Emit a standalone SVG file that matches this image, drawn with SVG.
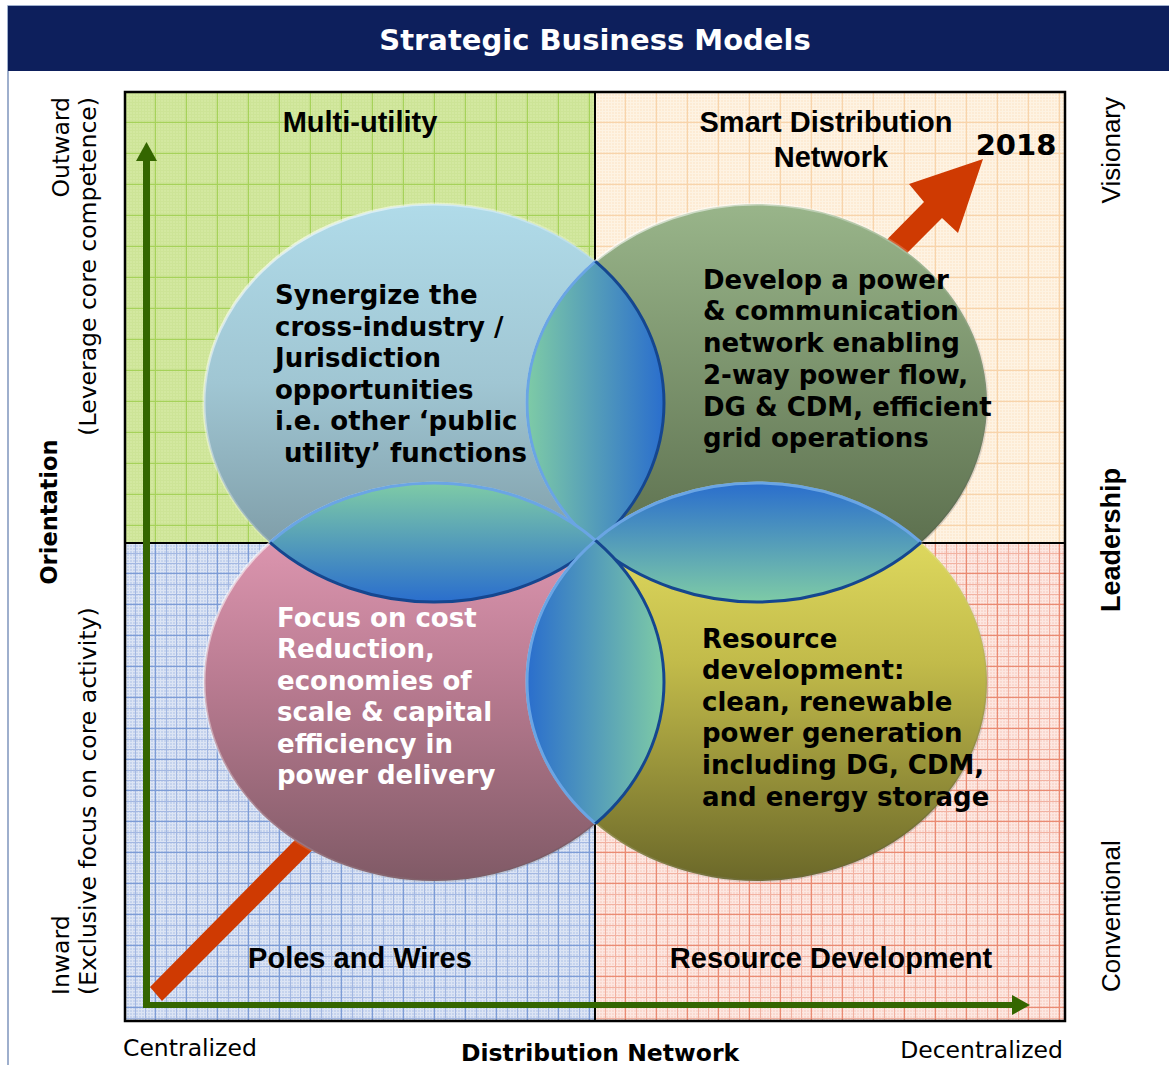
<svg xmlns="http://www.w3.org/2000/svg" width="1169" height="1065" viewBox="0 0 1169 1065">
  <style>
    .title { font-family: "DejaVu Sans", Verdana, sans-serif; font-weight: bold; font-size: 29px; fill: #ffffff; }
    .quad { font-family: "Liberation Sans", Arial, sans-serif; font-weight: bold; font-size: 29px; fill: #000000; }
    .body { font-family: "DejaVu Sans", Verdana, sans-serif; font-weight: bold; font-size: 26px; fill: #000000; }
    .body.light { fill: #ffffff; }
    .year { font-family: "DejaVu Sans", Verdana, sans-serif; font-weight: bold; font-size: 29px; fill: #000000; }
    .side { font-family: "DejaVu Sans", Verdana, sans-serif; font-size: 23.5px; fill: #000000; }
    .sideb { font-family: "DejaVu Sans", Verdana, sans-serif; font-weight: bold; font-size: 22.5px; fill: #000000; }
    .rside { font-family: "Liberation Sans", Arial, sans-serif; font-size: 26px; fill: #000000; }
    .rsideb { font-family: "Liberation Sans", Arial, sans-serif; font-weight: bold; font-size: 27px; fill: #000000; }
    .axisb { font-family: "DejaVu Sans", Verdana, sans-serif; font-weight: bold; font-size: 23.5px; fill: #000000; }
    .rim { fill: none; stroke: url(#rim); stroke-width: 3; }
  </style>
  <defs>
    <!-- quadrant grid textures -->
    <pattern id="pGreen" patternUnits="userSpaceOnUse" x="125" y="92" width="31" height="31">
      <rect width="31" height="31" fill="#d3e8a0"/>
      <path d="M0 1.5H31M0 4.5H31M0 7.5H31M0 10.5H31M0 13.5H31M0 16.5H31M0 19.5H31M0 22.5H31M0 25.5H31M0 28.5H31M1.5 0V31M4.5 0V31M7.5 0V31M10.5 0V31M13.5 0V31M16.5 0V31M19.5 0V31M22.5 0V31M25.5 0V31M28.5 0V31" stroke="#c7e08d" stroke-width="1" opacity="0.5"/>
      <path d="M0 30.5H31M30.5 0V31" stroke="#a6d25a" stroke-width="1.5"/>
    </pattern>
    <pattern id="pPeach" patternUnits="userSpaceOnUse" x="595" y="92" width="31" height="31">
      <rect width="31" height="31" fill="#fdebd4"/>
      <path d="M0 1.5H31M0 4.5H31M0 7.5H31M0 10.5H31M0 13.5H31M0 16.5H31M0 19.5H31M0 22.5H31M0 25.5H31M0 28.5H31M1.5 0V31M4.5 0V31M7.5 0V31M10.5 0V31M13.5 0V31M16.5 0V31M19.5 0V31M22.5 0V31M25.5 0V31M28.5 0V31" stroke="#fff6ea" stroke-width="1" opacity="0.7"/>
      <path d="M0 30.5H31M30.5 0V31" stroke="#f8d4ab" stroke-width="1.5"/>
    </pattern>
    <pattern id="pBlue" patternUnits="userSpaceOnUse" x="125" y="543" width="31" height="31">
      <rect width="31" height="31" fill="#c5d3ed"/>
      <path d="M0 1.5H31M0 4.5H31M0 7.5H31M0 10.5H31M0 13.5H31M0 16.5H31M0 19.5H31M0 22.5H31M0 25.5H31M0 28.5H31M1.5 0V31M4.5 0V31M7.5 0V31M10.5 0V31M13.5 0V31M16.5 0V31M19.5 0V31M22.5 0V31M25.5 0V31M28.5 0V31" stroke="#eef2fa" stroke-width="1" opacity="0.55"/>
      <path d="M0 10.5H31M0 20.5H31M10.5 0V31M20.5 0V31" stroke="#a4b8e2" stroke-width="1"/>
      <path d="M0 30.5H31M30.5 0V31" stroke="#7d9cd6" stroke-width="1.5"/>
    </pattern>
    <pattern id="pPink" patternUnits="userSpaceOnUse" x="595" y="543" width="31" height="31">
      <rect width="31" height="31" fill="#f9d8cf"/>
      <path d="M0 1.5H31M0 4.5H31M0 7.5H31M0 10.5H31M0 13.5H31M0 16.5H31M0 19.5H31M0 22.5H31M0 25.5H31M0 28.5H31M1.5 0V31M4.5 0V31M7.5 0V31M10.5 0V31M13.5 0V31M16.5 0V31M19.5 0V31M22.5 0V31M25.5 0V31M28.5 0V31" stroke="#fff1ec" stroke-width="1" opacity="0.6"/>
      <path d="M0 10.5H31M0 20.5H31M10.5 0V31M20.5 0V31" stroke="#f2b2a2" stroke-width="1"/>
      <path d="M0 30.5H31M30.5 0V31" stroke="#ea8b73" stroke-width="1.5"/>
    </pattern>

    <!-- ellipse fills -->
    <linearGradient id="gBlue" x1="0" y1="0" x2="0" y2="1">
      <stop offset="0" stop-color="#b0dbe9"/>
      <stop offset="0.45" stop-color="#a0c6d3"/>
      <stop offset="1" stop-color="#74909a"/>
    </linearGradient>
    <linearGradient id="gGreen" x1="0" y1="0" x2="0" y2="1">
      <stop offset="0" stop-color="#99b58a"/>
      <stop offset="1" stop-color="#536545"/>
    </linearGradient>
    <linearGradient id="gPink" x1="0" y1="0" x2="0" y2="1">
      <stop offset="0" stop-color="#eaa0bb"/>
      <stop offset="0.5" stop-color="#b97b91"/>
      <stop offset="1" stop-color="#805a66"/>
    </linearGradient>
    <linearGradient id="gYellow" x1="0" y1="0" x2="0" y2="1">
      <stop offset="0" stop-color="#ebe667"/>
      <stop offset="0.45" stop-color="#c2bb4a"/>
      <stop offset="1" stop-color="#6b6829"/>
    </linearGradient>
    <linearGradient id="rim" x1="0" y1="0" x2="1" y2="1">
      <stop offset="0" stop-color="#ffffff" stop-opacity="0.75"/>
      <stop offset="0.5" stop-color="#ffffff" stop-opacity="0.15"/>
      <stop offset="1" stop-color="#000000" stop-opacity="0.25"/>
    </linearGradient>

    <!-- overlap lens fills -->
    <linearGradient id="lensUp" gradientUnits="userSpaceOnUse" x1="527" y1="0" x2="664" y2="0">
      <stop offset="0" stop-color="#7ecba6"/>
      <stop offset="1" stop-color="#2a6ecd"/>
    </linearGradient>
    <linearGradient id="lensDown" gradientUnits="userSpaceOnUse" x1="527" y1="0" x2="664" y2="0">
      <stop offset="0" stop-color="#2a6ecd"/>
      <stop offset="1" stop-color="#7ecba6"/>
    </linearGradient>
    <linearGradient id="lensLeft" gradientUnits="userSpaceOnUse" x1="0" y1="483" x2="0" y2="602">
      <stop offset="0" stop-color="#7ecba6"/>
      <stop offset="1" stop-color="#2a6ecd"/>
    </linearGradient>
    <linearGradient id="lensRight" gradientUnits="userSpaceOnUse" x1="0" y1="483" x2="0" y2="602">
      <stop offset="0" stop-color="#2a6ecd"/>
      <stop offset="1" stop-color="#7ecba6"/>
    </linearGradient>

    <clipPath id="cB"><ellipse cx="434" cy="403" rx="230" ry="199"/></clipPath>
    <clipPath id="cG"><ellipse cx="757" cy="403" rx="230" ry="199"/></clipPath>
    <clipPath id="cP"><ellipse cx="434" cy="682" rx="230" ry="199"/></clipPath>
    <clipPath id="cY"><ellipse cx="757" cy="682" rx="230" ry="199"/></clipPath>
  </defs>

  <rect width="1169" height="1065" fill="#ffffff"/>

  <!-- frame and header -->
  <rect x="8" y="6" width="1170" height="1070" fill="none" stroke="#7f95bd" stroke-width="1.5"/>
  <rect id="header" x="8" y="6" width="1161" height="65" fill="#0d1f5c"/>
  <text class="title" x="595" y="50" text-anchor="middle">Strategic Business Models</text>

  <!-- quadrants -->
  <g id="quadrants">
    <rect x="125" y="92" width="470" height="451" fill="url(#pGreen)"/>
    <rect x="595" y="92" width="470" height="451" fill="url(#pPeach)"/>
    <rect x="125" y="543" width="470" height="478" fill="url(#pBlue)"/>
    <rect x="595" y="543" width="470" height="478" fill="url(#pPink)"/>
    <path d="M595 92V1021M125 543H1065" stroke="#000000" stroke-width="2"/>
    <rect x="125" y="92" width="940" height="929" fill="none" stroke="#000000" stroke-width="2.5"/>
  </g>

  <!-- quadrant titles -->
  <g id="q-multi"><text class="quad" x="360" y="132" text-anchor="middle">Multi-utility</text></g>
  <g id="q-smart">
    <text class="quad" x="826" y="132" text-anchor="middle">Smart Distribution</text>
    <text class="quad" x="831" y="167" text-anchor="middle">Network</text>
  </g>
  <g id="q-poles"><text class="quad" x="360" y="968" text-anchor="middle">Poles and Wires</text></g>
  <g id="q-resource"><text class="quad" x="831" y="968" text-anchor="middle">Resource Development</text></g>
  <g id="year"><text class="year" x="1016" y="155" text-anchor="middle">2018</text></g>

  <!-- connectors: trajectory arrow and axes -->
  <g id="connectors">
    <polygon points="150,987 924,202 909,184 983,159 958,233 942,218 162,1001" fill="#cf3a02"/>
    <rect x="143" y="158" width="7" height="850" fill="#346600"/>
    <polygon points="146.5,142 136,161 157,161" fill="#346600"/>
    <rect x="143" y="1002" width="872" height="6" fill="#346600"/>
    <polygon points="1030,1005 1012,995 1012,1015" fill="#346600"/>
  </g>

  <!-- four strategy ellipses -->
  <g id="node-synergize">
    <ellipse cx="434" cy="403" rx="230" ry="199" fill="url(#gBlue)"/>
    <ellipse class="rim" cx="434" cy="403" rx="230" ry="199"/>
  </g>
  <g id="node-develop">
    <ellipse cx="757" cy="403" rx="230" ry="199" fill="url(#gGreen)"/>
    <ellipse class="rim" cx="757" cy="403" rx="230" ry="199"/>
  </g>
  <g id="node-focus">
    <ellipse cx="434" cy="682" rx="230" ry="199" fill="url(#gPink)"/>
    <ellipse class="rim" cx="434" cy="682" rx="230" ry="199"/>
  </g>
  <g id="node-resource">
    <ellipse cx="757" cy="682" rx="230" ry="199" fill="url(#gYellow)"/>
    <ellipse class="rim" cx="757" cy="682" rx="230" ry="199"/>
  </g>

  <!-- overlap lenses -->
  <g id="lenses" fill="none" stroke-width="3">
    <g clip-path="url(#cB)">
      <ellipse cx="757" cy="403" rx="230" ry="199" fill="url(#lensUp)"/>
      <ellipse cx="757" cy="403" rx="230" ry="199" stroke="#6aa5e4"/>
    </g>
    <g clip-path="url(#cG)"><ellipse cx="434" cy="403" rx="230" ry="199" stroke="#15468f"/></g>

    <g clip-path="url(#cB)">
      <ellipse cx="434" cy="682" rx="230" ry="199" fill="url(#lensLeft)"/>
      <ellipse cx="434" cy="682" rx="230" ry="199" stroke="#6aa5e4"/>
    </g>
    <g clip-path="url(#cP)"><ellipse cx="434" cy="403" rx="230" ry="199" stroke="#15468f"/></g>

    <g clip-path="url(#cG)">
      <ellipse cx="757" cy="682" rx="230" ry="199" fill="url(#lensRight)"/>
      <ellipse cx="757" cy="682" rx="230" ry="199" stroke="#6aa5e4"/>
    </g>
    <g clip-path="url(#cY)"><ellipse cx="757" cy="403" rx="230" ry="199" stroke="#15468f"/></g>

    <g clip-path="url(#cP)">
      <ellipse cx="757" cy="682" rx="230" ry="199" fill="url(#lensDown)"/>
      <ellipse cx="757" cy="682" rx="230" ry="199" stroke="#6aa5e4"/>
    </g>
    <g clip-path="url(#cY)"><ellipse cx="434" cy="682" rx="230" ry="199" stroke="#15468f"/></g>
  </g>

  <!-- ellipse texts -->
  <g id="text-synergize">
    <text class="body" x="275" y="304">Synergize the</text>
    <text class="body" x="275" y="336">cross-industry /</text>
    <text class="body" x="275" y="367">Jurisdiction</text>
    <text class="body" x="275" y="399">opportunities</text>
    <text class="body" x="275" y="430">i.e. other ‘public</text>
    <text class="body" x="284" y="462">utility’ functions</text>
  </g>
  <g id="text-develop">
    <text class="body" x="703" y="289">Develop a power</text>
    <text class="body" x="703" y="320">&amp; communication</text>
    <text class="body" x="703" y="352">network enabling</text>
    <text class="body" x="703" y="384">2-way power flow,</text>
    <text class="body" x="703" y="416">DG &amp; CDM, efficient</text>
    <text class="body" x="703" y="447">grid operations</text>
  </g>
  <g id="text-focus">
    <text class="body light" x="277" y="627">Focus on cost</text>
    <text class="body light" x="277" y="658">Reduction,</text>
    <text class="body light" x="277" y="690">economies of</text>
    <text class="body light" x="277" y="721">scale &amp; capital</text>
    <text class="body light" x="277" y="753">efficiency in</text>
    <text class="body light" x="277" y="784">power delivery</text>
  </g>
  <g id="text-resource">
    <text class="body" x="702" y="648">Resource</text>
    <text class="body" x="702" y="679">development:</text>
    <text class="body" x="702" y="711">clean, renewable</text>
    <text class="body" x="702" y="742">power generation</text>
    <text class="body" x="702" y="774">including DG, CDM,</text>
    <text class="body" x="702" y="806">and energy storage</text>
  </g>

  <!-- axis labels -->
  <g id="axis-left">
    <text class="side" transform="translate(69,97) rotate(-90)" text-anchor="end">Outward</text>
    <text class="side" transform="translate(96,97) rotate(-90)" text-anchor="end">(Leverage core competence)</text>
    <text class="sideb" transform="translate(57,512) rotate(-90)" text-anchor="middle">Orientation</text>
    <text class="side" transform="translate(69,995) rotate(-90)">Inward</text>
    <text class="side" transform="translate(96,995) rotate(-90)">(Exclusive focus on core activity)</text>
  </g>
  <g id="axis-right">
    <text class="rside" transform="translate(1120,97) rotate(-90)" text-anchor="end">Visionary</text>
    <text class="rsideb" transform="translate(1120,540) rotate(-90)" text-anchor="middle">Leadership</text>
    <text class="rside" transform="translate(1120,992) rotate(-90)">Conventional</text>
  </g>
  <g id="axis-bottom">
    <text class="side" x="123" y="1056">Centralized</text>
    <text class="axisb" x="600" y="1061" text-anchor="middle">Distribution Network</text>
    <text class="side" x="1063" y="1058" text-anchor="end">Decentralized</text>
  </g>
</svg>
